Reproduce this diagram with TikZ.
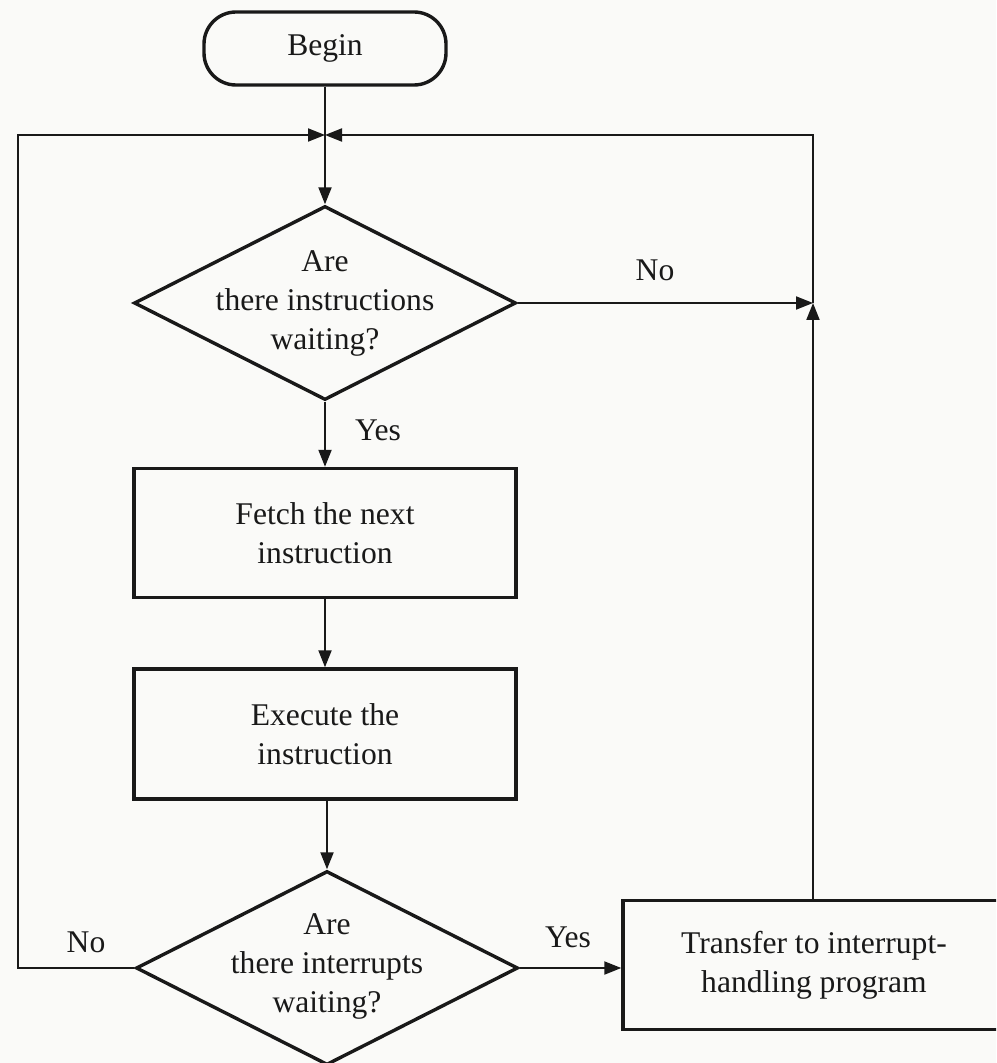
\documentclass[tikz,border=0pt]{standalone}
\usepackage{fontspec}
\setmainfont{Liberation Serif}
\usetikzlibrary{shapes.geometric,arrows.meta}
\definecolor{paper}{RGB}{250,250,248}
\definecolor{ink}{RGB}{25,25,25}
\begin{document}
\begin{tikzpicture}[x=0.5pt,y=-0.5pt,
  font=\fontsize{15.8}{19.5}\selectfont,
  term/.style={draw=ink,line width=1.7pt,rounded corners=16pt,
    minimum width=121pt,minimum height=36.5pt,inner sep=0pt},
  procbox/.style={draw=ink,line width=1.7pt,minimum width=191pt,
    minimum height=64.5pt,inner sep=0pt,align=center},
  decision/.style={draw=ink,line width=1.7pt,shape=diamond,inner sep=0pt,
    minimum width=191pt,minimum height=97pt},
  txt/.style={text=ink,align=center,inner sep=0pt},
  lbl/.style={text=ink,inner sep=0pt},
  flow/.style={draw=ink,line width=1pt,-{Triangle[length=8.5pt,width=6.5pt]}}]

% page and its limits
\clip (0,0) rectangle (996,1063);
\fill[paper] (0,0) rectangle (996,1063);

% blocks of the flowchart
\node[term,text=ink] (begin) at (325,48.5) {Begin};
\node[decision] (d1) at (325,303) {};
\node[txt] (d1t) at (d1) {Are\\there instructions\\waiting?};
\node[procbox,text=ink] (fetch) at (325,533) {Fetch the next\\instruction};
\node[procbox,text=ink,minimum height=65pt] (exec) at (325,734) {Execute the\\instruction};
\node[decision] (d2) at (327,968) {};
\node[txt] (d2t) at (327,966) {Are\\there interrupts\\waiting?};
\node[procbox,text=ink] (tr) at (814,965) {Transfer to interrupt-\\handling program};

% corner points of the loop-back lines
\coordinate (jn) at (325,135);
\coordinate (lt) at (18,135);
\coordinate (lb) at (18,968);
\coordinate (rt) at (813,135);
\coordinate (rj) at (813,303);

% main sequence
\draw[flow] (begin.south) -- (d1.north);
\draw[flow] (d1.south) -- (fetch.north);
\draw[flow] (fetch.south) -- (exec.north);
\draw[flow] (exec.south -| d2.north) -- (d2.north);
\draw[flow] (d2.east) -- (d2.east -| tr.west);

% branches back to the top
\draw[flow] (d1.east) -- (rj);
\draw[flow] (tr.north -| rj) -- (rj);
\draw[flow] (rj) -- (rt) -- (jn);
\draw[flow] (d2.west) -- (lb) -- (lt) -- (jn);

% branch labels
\node[lbl] (no1) at (655,270) {No};
\node[lbl] (yes1) at (378,430) {Yes};
\node[lbl] (no2) at (86,942) {No};
\node[lbl] (yes2) at (568,937) {Yes};
\end{tikzpicture}
\end{document}
